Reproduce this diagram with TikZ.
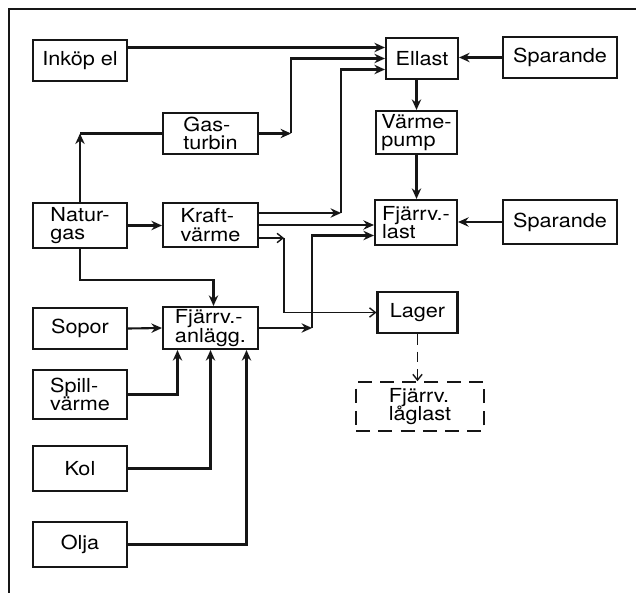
\documentclass[tikz,border=0pt]{standalone}
\usepackage{fontspec}
\setmainfont{TeX Gyre Heros}[FakeStretch=1.12]
\usetikzlibrary{arrows.meta,positioning,calc}
\definecolor{ink}{RGB}{22,22,22}
\newcommand{\boxfont}{\fontsize{16.5}{15.5}\selectfont\lineskiplimit=-10pt\relax}
\tikzset{
  blk/.style={draw=ink, line width=1.8pt, inner sep=2pt, align=left,
    minimum width=2.82cm, minimum height=1.23cm, font=\boxfont},
  dblk/.style={blk, line width=1.3pt, dash pattern=on 12pt off 7pt},
  ln/.style={ink, line width=1.8pt},
  arr/.style={-{Stealth[length=9pt,width=8pt]}, ink, line width=1.8pt},
  tarr/.style={-{Straight Barb[length=5pt,width=8pt]}, ink, line width=1.2pt},
  darr/.style={tarr, dash pattern=on 9pt off 6pt},
}

\begin{document}
\begin{tikzpicture}[x=0.03cm,y=-0.03cm]
\useasboundingbox (0,0) rectangle (636,593);
\draw[ink, line width=1.1pt] (9,593) -- (9,9) -- (636,9);
% sources, left column
\node[blk] (inkop) at (80,60.5) {Inköp el};
\node[blk, minimum height=1.35cm] (natur) at (80,225.5) {Natur-\\gas};
\node[blk] (sopor) at (80,328.5) {Sopor};
\node[blk, minimum height=1.47cm] (spill) at (80,394.5) {Spill-\\värme};
\node[blk, minimum height=1.35cm] (kol) at (80,468.5) {Kol};
\node[blk, minimum height=1.35cm] (olja) at (80,544.5) {Olja};
% plants
\node[blk, minimum width=2.85cm] (gasturb) at (210.5,133.5) {Gas-\\turbin};
\node[blk, minimum width=2.85cm, minimum height=1.32cm] (kraft) at (210.5,225) {Kraft-\\värme};
\node[blk, minimum width=2.85cm, minimum height=1.26cm] (anlagg) at (210.5,328) {Fjärrv.-\\anlägg.};
% loads
\node[blk, minimum width=2.16cm] (ellast) at (422,58.5) {Ellast};
\node[blk, minimum width=3.42cm] (spar1) at (560,57.5) {Sparande};
\node[blk, minimum width=2.43cm, minimum height=1.29cm] (vpump) at (416.5,132.5) {Värme-\\pump};
\node[blk, minimum width=2.46cm, minimum height=1.35cm] (fjlast) at (416,222.5) {Fjärrv.-\\last};
\node[blk, minimum width=3.42cm, minimum height=1.32cm] (spar2) at (560,222) {Sparande};
\node[blk, minimum width=2.40cm] (lager) at (417.5,312.5) {Lager};
\node[dblk, minimum width=3.84cm, minimum height=1.47cm] (laglast) at (420,406.5) {Fjärrv.\\låglast};

% into Ellast
\coordinate (e1) at ($(ellast.west)+(0,-11)$);
\coordinate (e3) at ($(ellast.west)+(0,11)$);
\draw[arr] (inkop.east |- e1) -- (e1);
\draw[arr] (gasturb.east) -- ++(32,0) coordinate (g1);
\draw[arr] (g1) |- (ellast.west);
\draw[arr] ($(kraft.east)+(0,-12)$) -- ++(82,0) coordinate (k1);
\draw[arr] (k1) |- (e3);
% into Fjarrv.-last and Lager
\coordinate (f2) at ($(fjlast.west)+(0,13)$);
\draw[arr] (kraft.east) -- (kraft.east -| fjlast.west);
\draw[arr] (anlagg.east) -- ++(53,0) coordinate (a1);
\draw[arr] (a1) |- (f2);
\draw[tarr] ($(kraft.east)+(0,13)$) -- ++(25,0) coordinate (k2);
\draw[tarr] (k2) |- (lager.west);
% Naturgas
\draw[arr] (natur.north) -- (natur.north |- gasturb.west) coordinate (n1);
\draw[ln] (n1) -- (gasturb.west);
\draw[arr] (natur.east) -- (natur.east -| kraft.west);
\draw[arr] (natur.south) -- ++(0,31) -| ($(anlagg.north)+(3,0)$);
% fuels into Fjarrv.-anlagg.
\draw[arr] (sopor.east) -- (anlagg.west);
\draw[arr] (spill.east) -| ($(anlagg.south)+(-33,0)$);
\draw[arr] (kol.east) -| (anlagg.south);
\draw[arr] (olja.east) -| ($(anlagg.south)+(36,0)$);
% right column
\draw[arr] (spar1.west) -- (spar1.west -| ellast.east);
\draw[arr] (spar2.west) -- (spar2.west -| fjlast.east);
\draw[arr] (ellast.south -| vpump.north) -- (vpump.north);
\draw[arr] (vpump.south) -- (vpump.south |- fjlast.north);
\draw[darr] (lager.south) -- (lager.south |- laglast.north);
\end{tikzpicture}
\end{document}
